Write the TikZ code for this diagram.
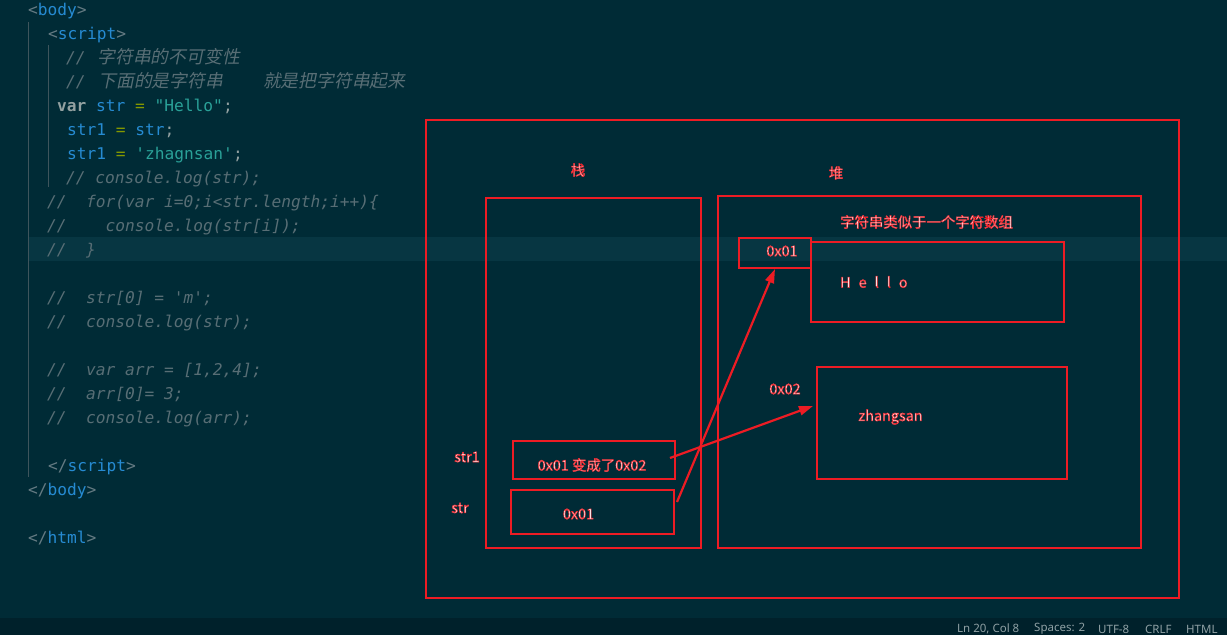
\documentclass[tikz,border=0pt]{standalone}
\usepackage{fontspec}
\usetikzlibrary{arrows.meta,fit}
\newfontfamily\xmono[Ligatures=TeXOff]{DejaVu Sans Mono}
\newfontfamily\xcjkit[FakeSlant=0.2]{Noto Sans CJK SC}
\newfontfamily\xlab{Noto Sans CJK SC}
\newfontfamily\xstat{Noto Sans}
\definecolor{bgc}{HTML}{002B36}
\definecolor{hlc}{HTML}{073642}
\definecolor{barc}{HTML}{00212B}
\definecolor{comc}{HTML}{586E75}
\definecolor{tagc}{HTML}{268BD2}
\definecolor{brc}{HTML}{657B83}
\definecolor{fgc}{HTML}{93A1A1}
\definecolor{grnc}{HTML}{859900}
\definecolor{strc}{HTML}{2AA198}
\definecolor{guidec}{HTML}{3E555C}
\definecolor{boxred}{HTML}{ED1C24}
\definecolor{labfill}{HTML}{FFFFFF}
\definecolor{statc}{HTML}{8FA0A4}
\newcommand\xBr[1]{\textcolor{brc}{#1}}
\newcommand\xTag[1]{\textcolor{tagc}{#1}}
\newcommand\xCom[1]{\textcolor{comc}{\itshape #1}}
\newcommand\xCJ[1]{{\color{comc}\xcjkit\fontsize{17.8}{24}\selectfont #1}}
\newcommand\xOut[1]{{\color{labfill}\special{pdf:literal direct 2 Tr 0.5 w 0.93 0.11 0.14 RG}#1\special{pdf:literal direct 0 Tr}}}
\begin{document}
\begin{tikzpicture}[x=1pt,y=-1pt,
  code/.style={anchor=base west,inner sep=0pt,font=\xmono\fontsize{16.2}{24}\selectfont},
  box/.style={draw=boxred,line width=2pt,inner sep=0pt},
  lbl/.style={inner sep=0pt,font=\xlab\fontsize{14.4}{17}\selectfont},
  stat/.style={text=statc,anchor=west,inner sep=0pt,font=\xstat\fontsize{11.5}{13}\selectfont},
  arr/.style={draw=boxred,line width=2.2pt,-{Triangle[length=14pt,width=9pt]}},
  guide/.style={draw=guidec,line width=1pt}]
\useasboundingbox (0,0) rectangle (1227,635);
\fill[bgc] (0,0) rectangle (1227,635);
\fill[hlc] (28,237) rectangle (1227,261);
\fill[barc] (0,618) rectangle (1227,635);
\draw[guide] (28,22) -- (28,477);
\draw[guide] (48,45) -- (48,187);
% code lines
\node[code] (l0) at (28,15) {\xBr{<}\xTag{body}\xBr{>}};
\node[code] (l1) at (48,39) {\xBr{<}\xTag{script}\xBr{>}};
\node[code] (l2) at (66,63) {\xCom{//\ }\hspace{2pt}\xCJ{字符串的不可变性}};
\node[code] (l3) at (66,87) {\xCom{//\ }\hspace{3pt}\xCJ{下面的是字符串}\hspace{40pt}\xCJ{就是把字符串起来}};
\node[code] (l4) at (57,111) {\textcolor{fgc}{\bfseries var}\ \xTag{str}\ \textcolor{grnc}{=}\ \textcolor{strc}{"Hello"}\textcolor{fgc}{;}};
\node[code] (l5) at (67,135) {\xTag{str1}\ \textcolor{grnc}{=}\ \xTag{str}\textcolor{fgc}{;}};
\node[code] (l6) at (67,159) {\xTag{str1}\ \textcolor{grnc}{=}\ \textcolor{strc}{'zhagnsan'}\textcolor{fgc}{;}};
\node[code] (l7) at (66,183) {\xCom{//\ console.log(str);}};
\node[code] (l8) at (47,207) {\xCom{//\ \ for(var\ i=0;i<str.length;i++)\{}};
\node[code] (l9) at (47,231) {\xCom{//\ \ \ \ console.log(str[i]);}};
\node[code] (l10) at (47,255) {\xCom{//\ \ \}}};
\node[code] (l12) at (47,303) {\xCom{//\ \ str[0]\ =\ 'm';}};
\node[code] (l13) at (47,327) {\xCom{//\ \ console.log(str);}};
\node[code] (l15) at (47,375) {\xCom{//\ \ var\ arr\ =\ [1,2,4];}};
\node[code] (l16) at (47,399) {\xCom{//\ \ arr[0]=\ 3;}};
\node[code] (l17) at (47,423) {\xCom{//\ \ console.log(arr);}};
\node[code] (l19) at (48,471) {\xBr{</}\xTag{script}\xBr{>}};
\node[code] (l20) at (28,495) {\xBr{</}\xTag{body}\xBr{>}};
\node[code] (l22) at (28,543) {\xBr{</}\xTag{html}\xBr{>}};
% boxes
\node[box,fit={(426,120) (1179,598)}] (outer) {};
\node[box,fit={(486,198) (701,548)}] (stack) {};
\node[box,fit={(718,196) (1141,548)}] (heap) {};
\node[box,fit={(739,238) (811,268)}] (addr1) {};
\node[box,fit={(811,242) (1064,322)}] (hellobox) {};
\node[box,fit={(817,367) (1067,479)}] (zbox) {};
\node[box,fit={(513,441) (675,479)}] (str1box) {};
\node[box,fit={(511,490) (674,534)}] (strbox) {};
% labels
\node[lbl] (tzhan) at (578,170) {\xOut{栈}};
\node[lbl] (tdui) at (836,173) {\xOut{堆}};
\node[lbl] (tarr) at (926.5,222) {\xOut{字符串类似于一个字符数组}};
\node[lbl] (t01a) at (782,251) {\xOut{0x01}};
\node[lbl,anchor=west] (thello) at (840,282) {\xOut{\spaceskip=8pt H e l l o}};
\node[lbl] (t02) at (785,389) {\xOut{0x02}};
\node[lbl] (tzs) at (890.5,417) {\xOut{zhangsan}};
\node[lbl] (tstr1) at (467,457) {\xOut{str1}};
\node[lbl] (tchg) at (592,465) {\xOut{0x01 变成了0x02}};
\node[lbl] (tstr) at (460,508) {\xOut{str}};
\node[lbl] (t01b) at (578.5,514) {\xOut{0x01}};
% arrows
\draw[arr] ([xshift=2pt,yshift=10pt]strbox.east) -- (addr1.south);
\draw[arr] ([xshift=-6pt,yshift=2pt]str1box.east) -- ([xshift=-3pt,yshift=17pt]zbox.west);
% status bar
\node[stat] (s1) at (957,629) {Ln 20, Col 8};
\node[stat] (s2) at (1034,629) {Spaces: 2};
\node[stat] (s3) at (1098,629) {UTF-8};
\node[stat] (s4) at (1145,629) {CRLF};
\node[stat] (s5) at (1186,629) {HTML};
\end{tikzpicture}
\end{document}
